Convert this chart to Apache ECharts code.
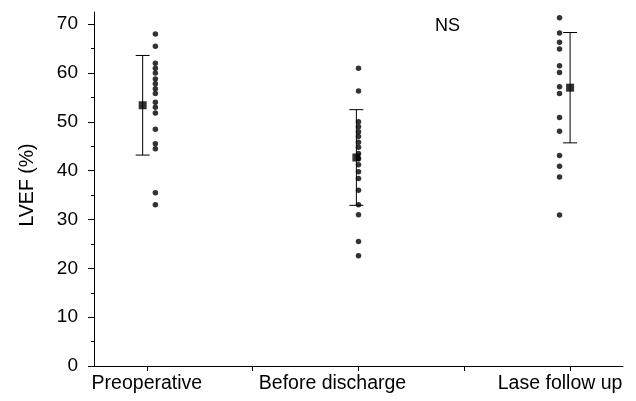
<!DOCTYPE html>
<html>
<head>
<meta charset="utf-8">
<title>LVEF</title>
<script src="https://cdn.jsdelivr.net/npm/echarts@6/dist/echarts.min.js"></script>
<style>
  html, body { margin: 0; padding: 0; background: #fff; }
  #chart { width: 636px; height: 401px; }
</style>
</head>
<body>
<div id="chart"></div>
<script>
// groups on the x axis (placed at 1, 2, 3)
const categories = ["Preoperative", "Before discharge", "Lase follow up"];

// individual LVEF readings (%)
const preoperative = [68, 65.5, 62, 61, 60, 58.8, 57.8, 56.8, 55.8, 54, 53, 51.8, 48.5, 45.5, 44.5, 35.5, 33];
const beforeDischarge = [61, 56.3, 50, 49, 48, 47, 45.8, 44.8, 43.5, 42.5, 41.2, 39.8, 38.4, 36, 33, 31, 25.5, 22.6];
const laseFollowUp = [71.3, 68.2, 66.3, 64.9, 61.5, 60.1, 57.2, 55.8, 50.9, 48.1, 43.1, 40.9, 38.7, 30.9];

// group mean and SD
const means = [53.4, 42.7, 57];
const sds = [10.2, 9.8, 11.3];

// y axis ticks
const yTicks = [0, 10, 20, 30, 40, 50, 60, 70];

// small sideways shifts so dots and means sit beside each other like the figure
const dotShift = [0.04, 0, -0.05];
const meanShift = [-0.02, -0.01, 0.0];
// the category labels are not centred on their ticks in the figure
const labelPad = [0, 52, 20];

const ink = "#000";
const font = "Liberation Sans, Arial, sans-serif";

const chart = echarts.init(document.getElementById("chart"));

const groups = [preoperative, beforeDischarge, laseFollowUp];
const dots = [];
groups.forEach(function(vals, i) {
  vals.forEach(function(v) {
    dots.push([i + 1 + dotShift[i], v]);
  });
});
const meanData = means.map(function(m, i) {
  return [i + 1 + meanShift[i], m, sds[i]];
});

const rich = {};
labelPad.forEach(function(p, i) {
  rich["c" + i] = { fontSize: 19.5, color: ink, fontFamily: font, padding: [0, p, 0, 0] };
});

const option = {
  animation: false,
  backgroundColor: "#fff",
  textStyle: { fontFamily: font },
  grid: { left: 94, right: 13, top: 12, bottom: 35 },
  title: {
    text: "NS",
    left: 430,
    top: 12,
    textStyle: { fontSize: 18, fontWeight: "normal", color: ink, fontFamily: font }
  },
  xAxis: {
    type: "value",
    min: 0.75,
    max: 3.25,
    splitLine: { show: false },
    axisLine: { lineStyle: { color: ink, width: 1 } },
    axisTick: { customValues: [1, 1.5, 2, 2.5, 3], length: 5, lineStyle: { color: ink } },
    axisLabel: {
      customValues: [1, 2, 3],
      margin: 8,
      rich: rich,
      formatter: function(v) {
        const i = Math.round(v) - 1;
        return "{c" + i + "|" + categories[i] + "}";
      }
    }
  },
  yAxis: {
    type: "value",
    min: 0,
    max: 72.5,
    name: "LVEF (%)",
    nameLocation: "middle",
    nameRotate: 90,
    nameGap: 56,
    nameTextStyle: { fontSize: 19.5, color: ink, padding: [0, 0, 0, 8] },
    splitLine: { show: false },
    axisLine: { show: true, lineStyle: { color: ink, width: 1 } },
    axisTick: { customValues: yTicks, length: 6, lineStyle: { color: ink } },
    minorTick: { show: true, splitNumber: 2, length: 3, lineStyle: { color: ink } },
    axisLabel: { customValues: yTicks, margin: 16, fontSize: 19, color: ink }
  },
  series: [
    {
      type: "scatter",
      data: dots,
      symbol: "circle",
      symbolSize: 5.5,
      itemStyle: { color: ink }
    },
    {
      // SD whiskers with caps
      type: "custom",
      data: meanData,
      renderItem: function(params, api) {
        const x = api.value(0);
        const m = api.value(1);
        const s = api.value(2);
        const top = api.coord([x, m + s]);
        const bot = api.coord([x, m - s]);
        const half = 7;
        const st = { stroke: ink, lineWidth: 1 };
        return {
          type: "group",
          children: [
            { type: "line", shape: { x1: top[0], y1: top[1], x2: bot[0], y2: bot[1] }, style: st },
            { type: "line", shape: { x1: top[0] - half, y1: top[1], x2: top[0] + half, y2: top[1] }, style: st },
            { type: "line", shape: { x1: bot[0] - half, y1: bot[1], x2: bot[0] + half, y2: bot[1] }, style: st }
          ]
        };
      },
      z: 3
    },
    {
      type: "scatter",
      data: meanData,
      symbol: "rect",
      symbolSize: 8,
      itemStyle: { color: ink },
      z: 4
    }
  ]
};

chart.setOption(option);
</script>
</body>
</html>
